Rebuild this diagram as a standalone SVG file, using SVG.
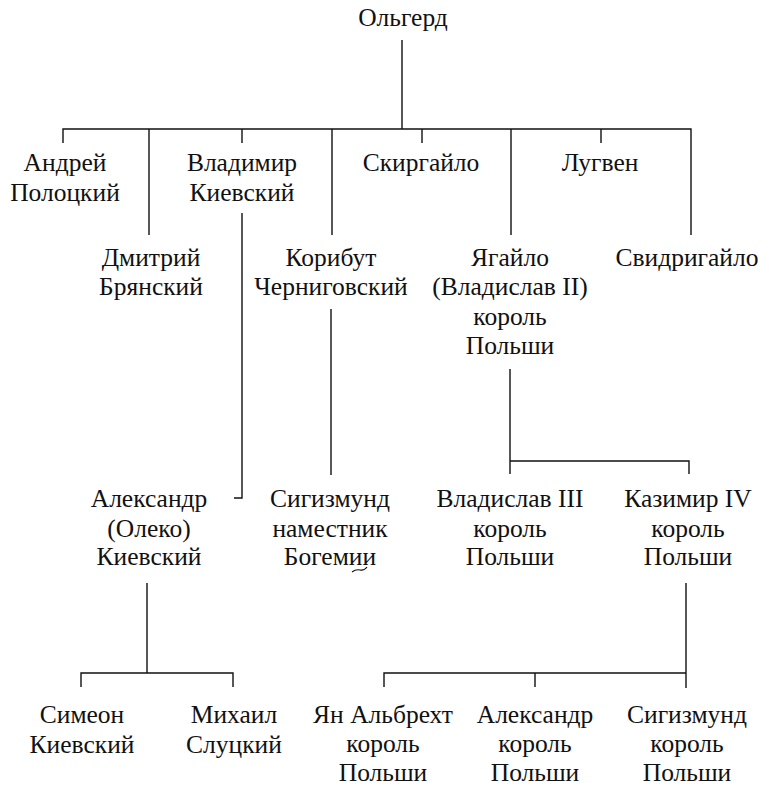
<svg xmlns="http://www.w3.org/2000/svg" width="769" height="787" viewBox="0 0 769 787">
<style>
text{font-family:"Liberation Serif","Times New Roman",serif;font-size:25.5px;fill:#111;text-anchor:middle}
.c path{fill:none;stroke:#111;stroke-width:1.4}
</style>
<rect width="769" height="787" fill="#fff"/>
<g class="c" id="connectors">
<path d="M402 40V129"/>
<path d="M63 143V129H691V235"/>
<path d="M149 129V235M242 129V143M332 129V235M422 129V143M511 129V235M601 129V143"/>
<path d="M242 213V498H234"/>
<path d="M331 309V475"/>
<path d="M510 369V474M510 461H689V474"/>
<path d="M147 583V673M81 687V673H233V687"/>
<path d="M686 583V688M384 687V673H686M535 673V687"/>
</g>
<g id="olgerd"><text x="403" y="26">Ольгерд</text></g>
<g id="andrey"><text x="65" y="171">Андрей</text><text x="65" y="201">Полоцкий</text></g>
<g id="vladimir"><text x="242" y="171">Владимир</text><text x="242" y="201">Киевский</text></g>
<g id="skirgailo"><text x="421" y="171">Скиргайло</text></g>
<g id="lugven"><text x="600" y="171">Лугвен</text></g>
<g id="dmitry"><text x="151" y="266">Дмитрий</text><text x="151" y="295">Брянский</text></g>
<g id="koribut"><text x="331" y="266">Корибут</text><text x="331" y="295">Черниговский</text></g>
<g id="jagailo"><text x="510" y="266">Ягайло</text><text x="510" y="295">(Владислав II)</text><text x="510" y="325">король</text><text x="510" y="354">Польши</text></g>
<g id="svidrigailo"><text x="687" y="266">Свидригайло</text></g>
<g id="aleksandr-oleko"><text x="149" y="507">Александр</text><text x="149" y="537">(Олеко)</text><text x="149" y="565">Киевский</text></g>
<g id="sigizmund-bohemia"><text x="330" y="507">Сигизмунд</text><text x="330" y="537">наместник</text><text x="330" y="565">Богемии</text><path d="M352 572q4-3 8-2t7-3" fill="none" stroke="#111" stroke-width="1.2"/></g>
<g id="vladislav3"><text x="510" y="507">Владислав III</text><text x="510" y="537">король</text><text x="510" y="565">Польши</text></g>
<g id="kazimir4"><text x="688" y="507">Казимир IV</text><text x="688" y="537">король</text><text x="688" y="565">Польши</text></g>
<g id="simeon"><text x="82" y="723">Симеон</text><text x="82" y="753">Киевский</text></g>
<g id="mikhail"><text x="234" y="723">Михаил</text><text x="234" y="753">Слуцкий</text></g>
<g id="jan-olbracht"><text x="383" y="723">Ян Альбрехт</text><text x="383" y="752">король</text><text x="383" y="781">Польши</text></g>
<g id="aleksandr-king"><text x="535" y="723">Александр</text><text x="535" y="752">король</text><text x="535" y="781">Польши</text></g>
<g id="sigizmund-king"><text x="687" y="723">Сигизмунд</text><text x="687" y="752">король</text><text x="687" y="781">Польши</text></g>
</svg>
